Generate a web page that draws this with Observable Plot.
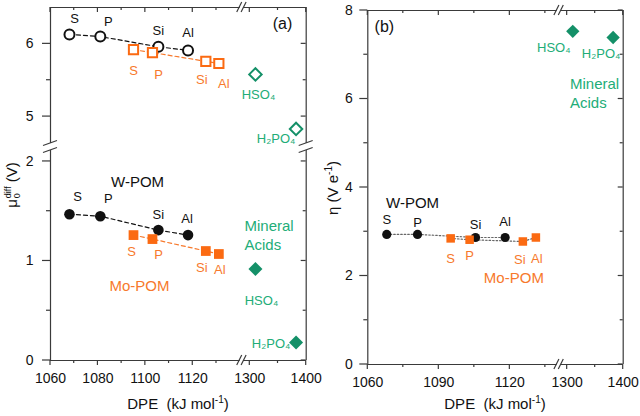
<!DOCTYPE html>
<html><head><meta charset="utf-8">
<script src="https://cdn.jsdelivr.net/npm/d3@7"></script>
<script src="https://cdn.jsdelivr.net/npm/@observablehq/plot@0.6"></script>
<style>
body{margin:0;background:#fff}
#chart{position:relative;width:640px;height:416px;font-family:"Liberation Sans",Arial,sans-serif;color:#111;overflow:hidden}
.panel{position:absolute;top:0;width:320px;height:416px}
.ttl{position:absolute;white-space:nowrap;font-size:15px;line-height:1}
.ttl sup{font-size:10px;vertical-align:6px}
.ss{display:inline-flex;flex-direction:column;font-size:9px;line-height:9px;vertical-align:middle;margin-left:1px}
</style></head><body>
<div id="chart">
  <div id="pa" class="panel" style="left:0"></div>
  <div id="pb" class="panel" style="left:320px"></div>
  <div class="ttl" style="left:178px;top:403px;transform:translate(-50%,-50%)">DPE&nbsp;&nbsp;(kJ mol<sup>-1</sup>)</div>
  <div class="ttl" style="left:495px;top:403px;transform:translate(-50%,-50%)">DPE&nbsp;&nbsp;(kJ mol<sup>-1</sup>)</div>
  <div class="ttl" style="left:13px;top:185px;transform:translate(-50%,-50%) rotate(-90deg)">μ<span class="ss"><span>diff</span><span>0</span></span>&nbsp;(V)</div>
  <div class="ttl" style="left:332px;top:188px;transform:translate(-50%,-50%) rotate(-90deg)">η&nbsp;(V e<sup>-1</sup>)</div>
</div>
<script>
// ---------- data ----------
const elements = ["S", "P", "Si", "Al"];
const acids = ["HSO₄", "H₂PO₄"];
const dpeW = [1068, 1081, 1105.5, 1118];
const dpeMo = [1095, 1103, 1125.5, 1131];
const dpeAcid = [1310, 1382];
// panel (a): mu0diff, upper (open symbols) and lower (filled symbols)
const muOpenW = [6.13, 6.10, 5.96, 5.91];
const muOpenMo = [5.92, 5.88, 5.76, 5.73];
const muOpenAcid = [5.58, 4.83];
const muW = [1.47, 1.45, 1.31, 1.26];
const muMo = [1.26, 1.22, 1.10, 1.07];
const muAcid = [0.92, 0.18];
// panel (b): eta
const etaW = [2.94, 2.94, 2.87, 2.87];
const etaMo = [2.85, 2.82, 2.78, 2.87];
const etaAcid = [7.53, 7.39];
// axes
const xTicksA = [1060, 1080, 1100, 1120, 1300, 1400];
const xMinorA = [1070, 1090, 1110, 1130, 1350];
const yTicksA = [0, 1, 2, 5, 6];
const yMinorA = [0.5, 1.5, 5.5];
const xTicksB = [1060, 1090, 1120, 1300, 1400];
const xMinorB = [1075, 1105, 1135, 1350];
const yTicksB = [0, 2, 4, 6, 8];
const yMinorB = [1, 3, 5, 7];

// ---------- styles ----------
const FONT = '"Liberation Sans", Arial, sans-serif';
const BLACK = "#111", ORANGE = "#fb6a12", ORANGE_T = "#f7792c", GREEN = "#149068", GREEN_T = "#22ad78", FRAME = "#3a3a3a";
const baseStyle = {fontFamily: FONT, fontSize: "14px", background: "transparent", color: BLACK, overflow: "visible", position: "absolute", left: "0px", top: "0px"};

const rows = (xs, ys, names) => xs.map((x, i) => ({x, y: ys[i], name: names[i]}));
const labelsFor = (data, offs, fill, f, size = 13) =>
  data.map((d, i) => f(d) ? Plot.text([d], {x: "x", y: "y", text: "name", dx: offs[i][0], dy: offs[i][1], fill, fontSize: size}) : null).filter(Boolean);
const note = (f, x, y, text, opt) => f({x, y}) ? [Plot.text([{x, y}], {x: "x", y: "y", text: () => text, ...opt})] : [];
const within = (v, [a, b]) => v >= a && v <= b;

// one segment of a broken-axis panel, drawn with its own linear scales
function segPlot(s, marksFn) {
  const [x0, x1] = s.px, [yTop, yBot] = s.py;
  const f = d => within(d.x, s.xd) && within(d.y, s.yd);
  const xt = s.xTicks.filter(v => within(v, s.xd)), ytk = s.yTicks.filter(v => within(v, s.yd));
  const xm = s.xMinor.filter(v => within(v, s.xd)), ym = s.yMinor.filter(v => within(v, s.yd));
  const fr = {stroke: FRAME, strokeWidth: 1.2};
  const frameMarks = [
    s.left ? Plot.ruleX([s.xd[0]], {y1: s.yd[0], y2: s.yd[1], ...fr}) : null,
    s.right ? Plot.ruleX([s.xd[1]], {y1: s.yd[0], y2: s.yd[1], ...fr}) : null,
    s.bottom ? Plot.ruleY([s.yd[0]], {x1: s.xd[0], x2: s.xd[1], ...fr}) : null,
    s.top ? Plot.ruleY([s.yd[1]], {x1: s.xd[0], x2: s.xd[1], ...fr}) : null
  ].filter(Boolean);
  const p = Plot.plot({
    width: 320, height: 416,
    marginLeft: x0, marginRight: 320 - x1, marginTop: yTop, marginBottom: 416 - yBot,
    style: baseStyle,
    x: {domain: s.xd, range: [x0, x1], axis: s.bottom ? "bottom" : null, ticks: xt, tickFormat: d => String(d), tickSize: 0, tickPadding: 13, label: null},
    y: {domain: s.yd, range: [yBot, yTop], axis: s.left ? "left" : null, ticks: ytk, tickFormat: d => String(d), tickSize: 0, tickPadding: s.yPad, label: null},
    marks: [...frameMarks, ...marksFn(f)]
  });
  const sx = p.scale("x"), sy = p.scale("y");
  const X = v => sx.apply(v), Y = v => sy.apply(v);
  const g = d3.select(p).append("g").attr("stroke", FRAME).attr("stroke-width", 1.2).attr("fill", "none");
  const seg = (a, b, c, d) => g.append("line").attr("x1", a).attr("y1", b).attr("x2", c).attr("y2", d);
  const xl = X(s.xd[0]), xr = X(s.xd[1]), yb = Y(s.yd[0]), yt = Y(s.yd[1]);
  if (s.bottom) { xt.forEach(v => seg(X(v), yb, X(v), yb + 5)); xm.forEach(v => seg(X(v), yb, X(v), yb + 3)); }
  if (s.top) { xt.forEach(v => seg(X(v), yt, X(v), yt + 5)); xm.forEach(v => seg(X(v), yt, X(v), yt + 3)); }
  if (s.left) { ytk.forEach(v => seg(xl - 8, Y(v), xl, Y(v))); ym.forEach(v => seg(xl - 4, Y(v), xl, Y(v))); }
  if (s.right) { ytk.forEach(v => seg(xr - 5, Y(v), xr, Y(v))); ym.forEach(v => seg(xr - 3, Y(v), xr, Y(v))); }
  p.__scales = {X, Y};
  return p;
}

function breakMarks(p, xBreak, yBreak) {
  const g = d3.select(p).append("g").attr("stroke", FRAME).attr("stroke-width", 1.2).attr("fill", "none");
  const seg = (a, b, c, d) => g.append("line").attr("x1", a).attr("y1", b).attr("x2", c).attr("y2", d);
  if (xBreak) for (const y of xBreak.ys) for (const d of [-2.2, 2.2]) seg(xBreak.x + d - 2.5, y + 5, xBreak.x + d + 2.5, y - 5);
  if (yBreak) for (const x of yBreak.xs) for (const d of [-3.5, 3.5]) seg(x - 7, yBreak.y + d + 2.5, x + 7, yBreak.y + d - 2.5);
}

// ---------- panel (a) ----------
const aOW = rows(dpeW, muOpenW, elements), aOMo = rows(dpeMo, muOpenMo, elements), aOAc = rows(dpeAcid, muOpenAcid, acids);
const aW = rows(dpeW, muW, elements), aMo = rows(dpeMo, muMo, elements), aAc = rows(dpeAcid, muAcid, acids);
const dash = {x: "x", y: "y", strokeWidth: 1.2, strokeDasharray: "4,3"};

const marksA = f => [
  Plot.line(aOW.filter(f), {...dash, stroke: BLACK}),
  Plot.line(aOMo.filter(f), {...dash, stroke: ORANGE_T}),
  Plot.line(aW.filter(f), {...dash, stroke: BLACK}),
  Plot.line(aMo.filter(f), {...dash, stroke: ORANGE_T}),
  Plot.dot(aOW.filter(f), {x: "x", y: "y", symbol: "circle", r: 5, stroke: BLACK, strokeWidth: 2, fill: "white"}),
  Plot.dot(aOMo.filter(f), {x: "x", y: "y", symbol: "square", r: 5.2, stroke: ORANGE, strokeWidth: 2, fill: "white"}),
  Plot.dot(aOAc.filter(f), {x: "x", y: "y", symbol: "diamond2", r: 5.6, stroke: GREEN, strokeWidth: 2, fill: "white"}),
  Plot.dot(aW.filter(f), {x: "x", y: "y", symbol: "circle", r: 5.3, fill: BLACK}),
  Plot.dot(aMo.filter(f), {x: "x", y: "y", symbol: "square", r: 5.5, fill: ORANGE}),
  Plot.dot(aAc.filter(f), {x: "x", y: "y", symbol: "diamond2", r: 6.3, fill: GREEN}),
  ...labelsFor(aOW, [[5, -16], [8, -15], [0, -16], [0, -18]], BLACK, f),
  ...labelsFor(aOMo, [[0, 21], [6, 22], [-4, 19], [5, 20]], ORANGE_T, f),
  ...labelsFor(aOAc, [[3, 20], [-20, 10]], GREEN_T, f),
  ...labelsFor(aW, [[8, -17], [8, -17], [0, -15], [-1, -16]], BLACK, f),
  ...labelsFor(aMo, [[-2, 17], [6, 16], [-4, 17], [1, 16]], ORANGE_T, f),
  ...labelsFor(aAc, [[6, 32], [-25, 1]], GREEN_T, f),
  ...note(f, 1358, 6.28, "(a)", {fontSize: 16, fill: BLACK}),
  ...note(f, 1096.7, 1.79, "W-POM", {fontSize: 15, fill: BLACK}),
  ...note(f, 1097.5, 0.75, "Mo-POM", {fontSize: 15, fill: ORANGE_T}),
  ...note(f, 1290.6, 1.35, "Mineral", {fontSize: 15, fill: GREEN_T, textAnchor: "start"}),
  ...note(f, 1290.6, 1.16, "Acids", {fontSize: 15, fill: GREEN_T, textAnchor: "start"})
];

const axA = {xTicks: xTicksA, xMinor: xMinorA, yTicks: yTicksA, yMinor: yMinorA, yPad: 17};
const xL_A = {xd: [1060, 1140], px: [50, 239.7]}, xR_A = {xd: [1289, 1400], px: [243.1, 305.7]};
const yU_A = {yd: [4.63, 6.5], py: [7, 143]}, yD_A = {yd: [0, 2.11], py: [150, 360]};
const segsA = [
  {...axA, ...xL_A, ...yU_A, left: true, top: true},
  {...axA, ...xR_A, ...yU_A, right: true, top: true},
  {...axA, ...xL_A, ...yD_A, left: true, bottom: true},
  {...axA, ...xR_A, ...yD_A, right: true, bottom: true}
];
const plotsA = segsA.map(s => segPlot(s, marksA));
{
  const L = plotsA[2].__scales, R = plotsA[3].__scales, U = plotsA[0].__scales;
  breakMarks(plotsA[3],
    {x: (L.X(1140) + R.X(1289)) / 2, ys: [L.Y(0), U.Y(6.5)]},
    {y: (U.Y(4.63) + L.Y(2.11)) / 2, xs: [L.X(1060), R.X(1400)]});
}
plotsA.forEach(p => document.getElementById("pa").append(p));

// ---------- panel (b) ----------
const bW = rows(dpeW, etaW, elements), bMo = rows(dpeMo, etaMo, elements), bAc = rows(dpeAcid, etaAcid, acids);
const dot = {x: "x", y: "y", strokeWidth: 1.2, strokeDasharray: "1.5,2", stroke: "#666"};
const marksB = f => [
  Plot.line(bW.filter(f), dot),
  Plot.line(bMo.filter(f), dot),
  Plot.dot(bW.filter(f), {x: "x", y: "y", symbol: "circle", r: 4.6, fill: BLACK}),
  Plot.dot(bMo.filter(f), {x: "x", y: "y", symbol: "square", r: 4.8, fill: ORANGE}),
  Plot.dot(bAc.filter(f), {x: "x", y: "y", symbol: "diamond2", r: 6, fill: GREEN}),
  ...labelsFor(bW, [[0, -15], [0, -12], [0, -13], [0, -16]], BLACK, f),
  ...labelsFor(bMo, [[0, 20], [0, 16], [-3, 18], [1, 21]], ORANGE_T, f),
  ...labelsFor(bAc, [[-19, 17], [-12, 16]], GREEN_T, f),
  ...note(f, 1067, 7.62, "(b)", {fontSize: 16, fill: BLACK}),
  ...note(f, 1078.9, 3.64, "W-POM", {fontSize: 15, fill: BLACK}),
  ...note(f, 1121.7, 1.94, "Mo-POM", {fontSize: 15, fill: ORANGE_T}),
  ...note(f, 1305, 6.33, "Mineral", {fontSize: 15, fill: GREEN_T, textAnchor: "start"}),
  ...note(f, 1305, 5.90, "Acids", {fontSize: 15, fill: GREEN_T, textAnchor: "start"})
];
const axB = {xTicks: xTicksB, xMinor: xMinorB, yTicks: yTicksB, yMinor: yMinorB, yPad: 15};
const yB = {yd: [0, 8], py: [10, 364]};
const segsB = [
  {...axB, xd: [1060, 1140], px: [47.3, 236.7], ...yB, left: true, top: true, bottom: true},
  {...axB, xd: [1289, 1400], px: [240.5, 302.7], ...yB, right: true, top: true, bottom: true}
];
const plotsB = segsB.map(s => segPlot(s, marksB));
{
  const L = plotsB[0].__scales, R = plotsB[1].__scales;
  breakMarks(plotsB[1], {x: (L.X(1140) + R.X(1289)) / 2, ys: [L.Y(0), L.Y(8)]}, null);
}
plotsB.forEach(p => document.getElementById("pb").append(p));
</script>
</body></html>
